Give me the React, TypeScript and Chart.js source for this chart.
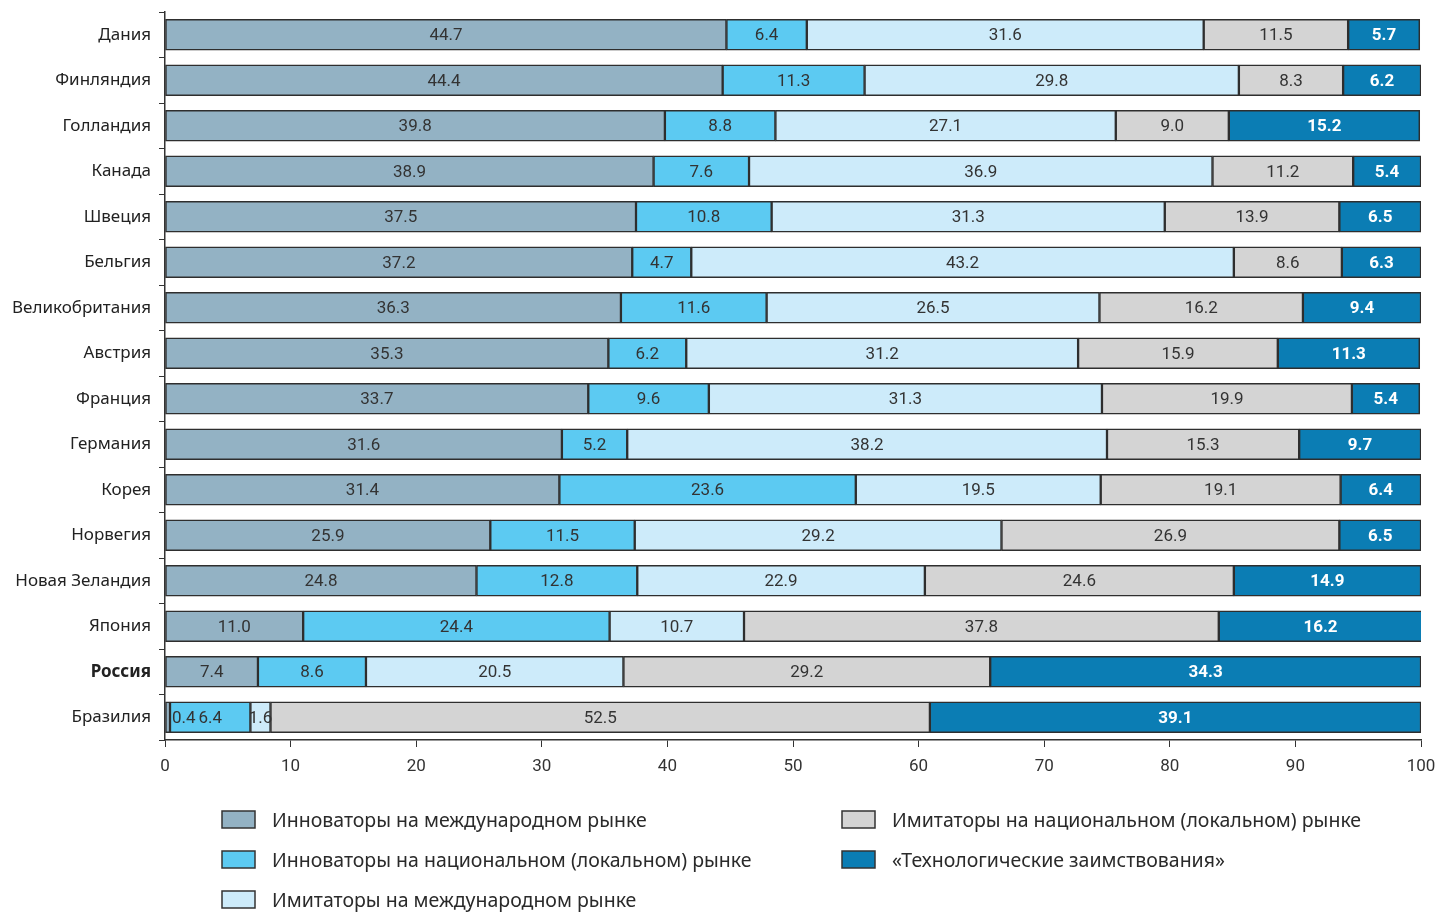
import React, { useEffect, useRef } from "react";
import { Chart, registerables } from "chart.js";

Chart.register(...registerables);

const countries = [
  "Дания", "Финляндия", "Голландия", "Канада", "Швеция", "Бельгия",
  "Великобритания", "Австрия", "Франция", "Германия", "Корея", "Норвегия",
  "Новая Зеландия", "Япония", "Россия", "Бразилия",
];

const innovIntl = [44.7, 44.4, 39.8, 38.9, 37.5, 37.2, 36.3, 35.3, 33.7, 31.6, 31.4, 25.9, 24.8, 11.0, 7.4, 0.4];
const innovLocal = [6.4, 11.3, 8.8, 7.6, 10.8, 4.7, 11.6, 6.2, 9.6, 5.2, 23.6, 11.5, 12.8, 24.4, 8.6, 6.4];
const imitIntl = [31.6, 29.8, 27.1, 36.9, 31.3, 43.2, 26.5, 31.2, 31.3, 38.2, 19.5, 29.2, 22.9, 10.7, 20.5, 1.6];
const imitLocal = [11.5, 8.3, 9.0, 11.2, 13.9, 8.6, 16.2, 15.9, 19.9, 15.3, 19.1, 26.9, 24.6, 37.8, 29.2, 52.5];
const techBorrow = [5.7, 6.2, 15.2, 5.4, 6.5, 6.3, 9.4, 11.3, 5.4, 9.7, 6.4, 6.5, 14.9, 16.2, 34.3, 39.1];

const seriesNames = [
  "Инноваторы на международном рынке",
  "Инноваторы на национальном (локальном) рынке",
  "Имитаторы на международном рынке",
  "Имитаторы на национальном (локальном) рынке",
  "«Технологические заимствования»",
];
const seriesColors = ["#93b2c4", "#5ccaf2", "#cdebfa", "#d4d4d4", "#0b7db4"];
const xTicks = [0, 10, 20, 30, 40, 50, 60, 70, 80, 90, 100];

const NUM_FONT = '"Liberation Sans Narrow", "Roboto", "Liberation Sans", sans-serif';
const CAT_FONT = '"Noto Sans", "Open Sans", sans-serif';

const labelPlugin = {
  id: "segLabels",
  afterDatasetsDraw(chart: any) {
    const ctx = chart.ctx;
    ctx.save();
    ctx.textBaseline = "middle";
    chart.data.datasets.forEach((ds: any, di: number) => {
      const meta = chart.getDatasetMeta(di);
      meta.data.forEach((el: any, i: number) => {
        const v = ds.data[i];
        const txt = v.toFixed(1);
        const dark = di === 4;
        ctx.font = (dark ? "bold " : "") + "17px " + NUM_FONT;
        ctx.fillStyle = dark ? "#ffffff" : "#333333";
        const left = Math.min(el.x, el.base);
        const right = Math.max(el.x, el.base);
        const w = right - left;
        const tw = ctx.measureText(txt).width;
        if (w < tw * 0.6) {
          ctx.textAlign = "left";
          ctx.fillText(txt, right + 2, el.y + 1);
        } else {
          ctx.textAlign = "center";
          ctx.fillText(txt, (left + right) / 2, el.y + 1);
        }
      });
    });
    ctx.restore();
  },
};

const legendPlugin = {
  id: "customLegend",
  afterDraw(chart: any) {
    const ctx = chart.ctx;
    ctx.save();
    const items = [
      { i: 0, bx: 222, y: 820 },
      { i: 1, bx: 222, y: 860 },
      { i: 2, bx: 222, y: 900 },
      { i: 3, bx: 842, y: 820 },
      { i: 4, bx: 842, y: 860 },
    ];
    items.forEach((it) => {
      ctx.fillStyle = seriesColors[it.i];
      ctx.fillRect(it.bx, it.y - 9, 33, 17);
      ctx.strokeStyle = "#333";
      ctx.lineWidth = 1.5;
      ctx.strokeRect(it.bx, it.y - 9, 33, 17);
      ctx.fillStyle = "#2a2a2a";
      ctx.font = "19.5px " + CAT_FONT;
      ctx.textAlign = "left";
      ctx.textBaseline = "middle";
      ctx.fillText(seriesNames[it.i], it.bx + 50, it.y + 1);
    });
    ctx.restore();
  },
};

export default function App() {
  const ref = useRef<HTMLCanvasElement>(null);
  useEffect(() => {
    document.body.style.margin = "0";
    document.body.style.overflow = "hidden";
    const values = [innovIntl, innovLocal, imitIntl, imitLocal, techBorrow];
    const chart = new Chart(ref.current!, {
      type: "bar",
      data: {
        labels: countries,
        datasets: values.map((d, i) => ({
          label: seriesNames[i],
          data: d,
          backgroundColor: seriesColors[i],
          borderColor: "#2e2e2e",
          borderWidth: 1.5,
          borderSkipped: false,
          barThickness: 31,
        })),
      },
      options: {
        indexAxis: "y",
        responsive: false,
        animation: false,
        layout: { padding: { top: 12, right: 0, left: 0, bottom: 0 } },
        plugins: { legend: { display: false }, tooltip: { enabled: false } },
        scales: {
          x: {
            stacked: true,
            min: 0,
            max: 100,
            afterFit: (s: any) => { s.height = 172; s.paddingRight = 14; },
            afterBuildTicks: (s: any) => { s.ticks = xTicks.map((v) => ({ value: v })); },
            grid: { drawOnChartArea: false, drawTicks: true, tickLength: 7, color: "#333" },
            border: { display: true, color: "#333", width: 1.5 },
            ticks: { color: "#333", font: { size: 17, family: NUM_FONT }, padding: 10, maxRotation: 0 },
          },
          y: {
            stacked: true,
            afterFit: (s: any) => { s.width = 165; s.paddingTop = 0; s.paddingBottom = 0; },
            grid: { drawOnChartArea: false, drawTicks: true, tickLength: 6, color: "#333", offset: true },
            border: { display: true, color: "#333", width: 1.5 },
            ticks: {
              color: "#222",
              padding: 8,
              font: (c: any) => ({
                size: 17,
                family: CAT_FONT,
                weight: c.tick && c.tick.label === "Россия" ? "bold" : "normal",
              }),
            },
          },
        },
      },
      plugins: [labelPlugin, legendPlugin],
    });
    return () => chart.destroy();
  }, []);
  return <canvas ref={ref} width={1435} height={912} style={{ display: "block" }} />;
}
